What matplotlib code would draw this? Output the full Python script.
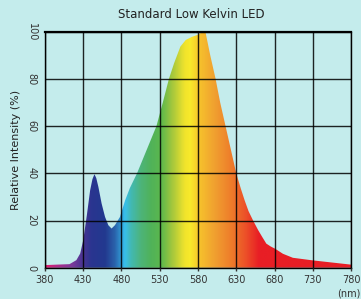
import numpy as np
import matplotlib.pyplot as plt
from matplotlib.colors import LinearSegmentedColormap

# spectrum
wavelength = [380, 395, 412, 421, 426, 430, 434.6, 439, 442, 444.6, 447, 449.8, 454, 458.5,
              462.8, 467, 471.4, 478, 484.8, 491, 500.3, 513, 525.7, 534, 542,
              548.7, 557, 564, 572, 579, 583, 586.5, 590, 596, 603, 609, 616, 623,
              630, 636, 641, 646, 652, 658.5, 664, 669.3, 675, 681, 691, 704, 730,
              755, 780]
intensity = [1.1, 1.3, 1.5, 3.2, 6.0, 11.7, 22.0, 32.8, 37.5, 39.6, 38.0, 34.2, 27.2, 21.5,
             18.0, 16.6, 18.0, 21.5, 28.6, 33.8, 40.0, 50.0, 60.0, 70.0, 80.0,
             86.6, 93.7, 96.5, 97.8, 98.6, 99.3, 100.0, 99.5, 90.0, 80.0, 70.0, 60.0, 50.0,
             40.0, 33.5, 28.5, 24.0, 20.0, 16.0, 13.0, 10.2, 9.0, 8.0, 5.9, 4.2, 3.1,
             2.2, 1.3]
x_ticks = [380, 430, 480, 530, 580, 630, 680, 730, 780]
y_ticks = [0, 20, 40, 60, 80, 100]

# colour of each wavelength in the fill
stops = [(380, '#e41e6e'), (395, '#b02a88'), (415, '#7a3a9a'), (428, '#4a3492'),
         (440, '#2a3590'), (458, '#22398f'), (470, '#2a5fa9'), (478, '#2f8fcc'),
         (484, '#38c0ec'), (492, '#42b9b4'), (505, '#4db47a'), (518, '#50b25a'),
         (532, '#5cb84c'), (547, '#a8c83c'), (563, '#f2e42c'), (570, '#f8ea2a'),
         (582, '#f6c22c'), (602, '#f0a030'), (625, '#ee7a2a'), (645, '#ec4a28'),
         (660, '#e81e25'), (780, '#e81e25')]
cmap = LinearSegmentedColormap.from_list(
    'spec', [((w - 380) / 400, c) for w, c in stops])

fig = plt.figure(figsize=(3.61, 2.99), dpi=100)
fig.patch.set_facecolor('#c4ecec')
ax = fig.add_axes([45 / 361, 1 - 267.7 / 299, 306 / 361, 236 / 299])
ax.set_facecolor('#c4ecec')

poly = ax.fill_between(wavelength, intensity, 0, color='none', lw=0)
grad = np.linspace(0, 1, 800).reshape(1, -1)
img = ax.imshow(grad, cmap=cmap, aspect='auto', extent=[380, 780, 0, 100],
                zorder=1, interpolation='bilinear')
img.set_clip_path(poly.get_paths()[0], transform=ax.transData)

ax.set_xlim(380, 780)
ax.set_ylim(0, 100)
ax.set_xticks(x_ticks)
ax.set_yticks(y_ticks)
ax.grid(True, color='black', lw=1, alpha=0.85)
ax.set_axisbelow(False)
for s in ax.spines.values():
    s.set_color('black')
    s.set_linewidth(1)
ax.spines['top'].set_linewidth(1.6)
ax.tick_params(axis='x', length=2, width=1, labelsize=7, colors='#333333', pad=3)
ax.tick_params(axis='y', length=0, labelsize=7, colors='#333333', pad=6,
               labelrotation=-90)
for lab in ax.get_yticklabels():
    lab.set_va('center')

ax.set_ylabel('Relative Intensity (%)', fontsize=8, color='#222222', labelpad=4)
fig.text(191.7 / 361, 1 - 14 / 299, 'Standard Low Kelvin LED', ha='center', va='center',
         fontsize=8.5, color='#222222')
fig.text(360 / 361, 1 - 294 / 299, '(nm)', ha='right', va='center', fontsize=7,
         color='#333333')

fig.savefig('out.png', dpi=100, facecolor=fig.get_facecolor())
